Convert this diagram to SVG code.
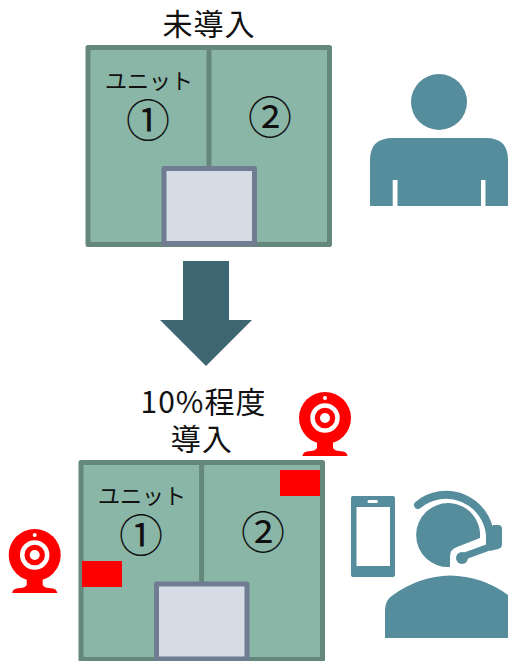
<svg xmlns="http://www.w3.org/2000/svg" width="508" height="661" viewBox="0 0 508 661">
<style>
.t{font-family:"Noto Sans CJK JP","Noto Sans",sans-serif;fill:#111;text-anchor:middle}
.h{font-size:30px;letter-spacing:1px}.u{font-size:22px}.n{font-size:44px}
.unit{fill:#8ab6a8;stroke:#66877b;stroke-width:5;stroke-linejoin:round}
.div{stroke:#66877b;stroke-width:5}
.door{fill:#d6dce5;stroke:#6f7c91;stroke-width:5;stroke-linejoin:round}
.ic{fill:#568d9c}
</style>
<defs>
<g id="cam">
<circle r="26" fill="#f00"/>
<circle r="12.5" fill="none" stroke="#fff" stroke-width="4.5"/>
<circle r="5" fill="#fff"/>
<circle cy="-20" r="2" fill="#fff"/>
<path d="M-8 24H8V30Q9 33 18 33.5Q22 34 22.5 38H-22.5Q-22 34 -18 33.5Q-9 33 -8 30Z" fill="#f00"/>
</g>
</defs>
<g id="label-top"><text class="t h" x="209" y="35">未導入</text></g>
<g id="unit-top">
<rect class="unit" x="88" y="47.5" width="241.500" height="197"/>
<line class="div" x1="209" y1="48" x2="209" y2="168"/>
<rect class="door" x="164" y="168.5" width="90.500" height="75"/>
<text class="t"><tspan class="u" x="149" y="89">ユニット</tspan><tspan class="n" x="148" y="137">①</tspan></text>
<text class="t n" x="270" y="134">②</text>
</g>
<g id="person">
<circle class="ic" cx="439" cy="102" r="28"/>
<path class="ic" d="M370 206V160Q370 138 393 138H486Q508 138 508 160V206H485.500V180H481V206H397.500V180H392.700V206Z"/>
</g>
<g id="arrow"><path d="M183 261H229V320H252L206 366L160 320H183Z" fill="#3f6773"/></g>
<g id="label-bottom">
<text class="t h"><tspan x="203.500" y="413">10%程度</tspan><tspan x="201.700" y="450">導入</tspan></text>
</g>
<g id="unit-bottom">
<rect class="unit" x="81" y="462.500" width="241.500" height="197"/>
<line class="div" x1="201.600" y1="463" x2="201.600" y2="583"/>
<rect class="door" x="156.500" y="584" width="90.500" height="75"/>
<text class="t"><tspan class="u" x="142" y="504">ユニット</tspan><tspan class="n" x="141" y="552">①</tspan></text>
<text class="t n" x="263" y="549">②</text>
<rect x="280" y="470" width="40" height="26" fill="#f00"/>
<rect x="82" y="561" width="40" height="26" fill="#f00"/>
</g>
<g id="camera-right"><use href="#cam" x="325" y="418"/></g>
<g id="camera-left"><use href="#cam" x="34.700" y="555"/></g>
<g id="phone">
<path class="ic" fill-rule="evenodd" d="M353 496H393Q395 496 395 498V575Q395 577 393 577H353Q351 577 351 575V498Q351 496 353 496ZM356.500 507V566H390V507ZM369 500Q367.500 500 367.500 501.500Q367.500 503 369 503H376.500Q378 503 378 501.500Q378 500 376.500 500Z"/>
</g>
<g id="operator">
<path class="ic" d="M450 567V557Q450 549 457 547L480 538A32 32 0 1 0 450 567Z"/>
<path d="M418 505A44 44 0 0 1 490 535V545" fill="none" stroke="#568d9c" stroke-width="8" stroke-linecap="round"/>
<path d="M492 546L462 557" fill="none" stroke="#568d9c" stroke-width="7" stroke-linecap="round"/>
<circle class="ic" cx="462" cy="558" r="6"/>
<path class="ic" d="M493 525H498Q502 525 502 529V544Q502 548 498 549L490 551V530Z"/>
<path class="ic" d="M385 638V610Q385 600 393 595Q420 576 450 575.500Q482 576 508 595V638Z"/>
</g>
</svg>
